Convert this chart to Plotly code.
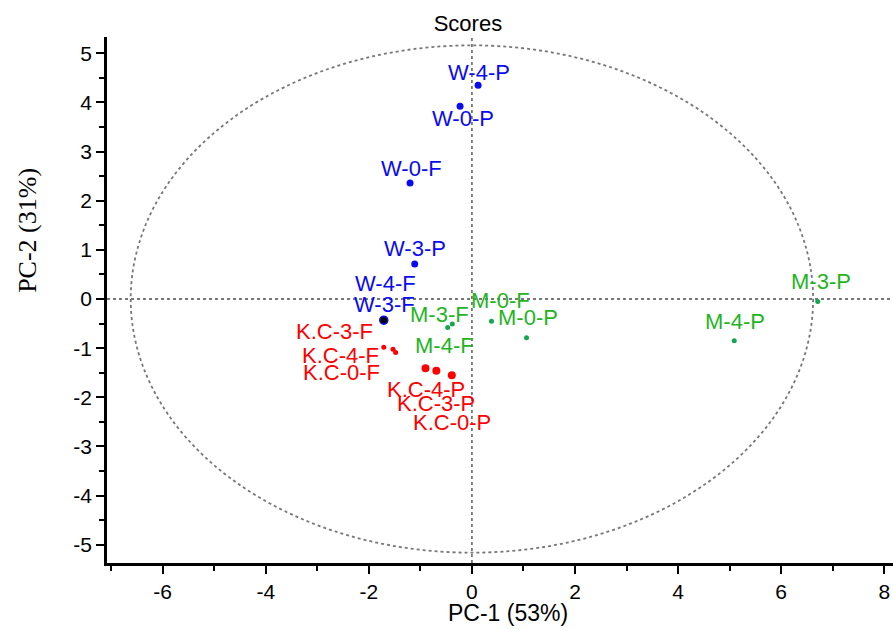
import plotly.graph_objects as go

# PCA scores (PC-1, PC-2) per sample
samples = ["W-4-P", "W-0-P", "W-0-F", "W-3-P", "W-4-F", "W-3-F",
           "K.C-3-F", "K.C-4-F", "K.C-0-F", "K.C-4-P", "K.C-3-P", "K.C-0-P",
           "M-3-F", "M-4-F", "M-0-F", "M-0-P", "M-4-P", "M-3-P"]
pc1 = [0.12, -0.23, -1.20, -1.11, -1.70, -1.71,
       -1.71, -1.53, -1.48, -0.90, -0.69, -0.39,
       -0.38, -0.47, 0.38, 1.06, 5.09, 6.71]
pc2 = [4.35, 3.92, 2.36, 0.71, -0.43, -0.43,
       -0.98, -1.02, -1.09, -1.41, -1.46, -1.55,
       -0.51, -0.58, -0.45, -0.79, -0.85, -0.05]
group = ["W", "W", "W", "W", "W", "W3F",
         "KF", "KF", "KF", "KP", "KP", "KP",
         "M", "M", "M", "M", "M", "M"]

# Hotelling ellipse half-axes
ellipse_rx = 6.62
ellipse_ry = 5.16

x_ticks = [-6, -4, -2, 0, 2, 4, 6, 8]
y_ticks = [-5, -4, -3, -2, -1, 0, 1, 2, 3, 4, 5]
x_ticklabels = [str(v) for v in x_ticks]
y_ticklabels = [str(v) for v in y_ticks]

BLUE = "#0a0af0"
RED = "#ff0000"
GREEN_TXT = "#1fb51f"
GREEN_DOT = "#14a650"
SANS = "Liberation Sans, Arial"

marker_style = {
    "W": dict(color=BLUE, size=7),
    "W3F": dict(color="#000000", size=8, line=dict(color=BLUE, width=1.5)),
    "KF": dict(color=RED, size=5),
    "KP": dict(color=RED, size=8),
    "M": dict(color=GREEN_DOT, size=5),
}
text_color = {"W": BLUE, "W3F": BLUE, "KF": RED, "KP": RED, "M": GREEN_TXT}

# label offsets in pixels (dx right, dy up)
label_shift = {
    "W-4-P": (1, 13), "W-0-P": (3, -12), "W-0-F": (1, 15), "W-3-P": (0, 16),
    "W-4-F": (1, 37), "W-3-F": (1, 16),
    "K.C-3-F": (-49, 16), "K.C-4-F": (-53, -6), "K.C-0-F": (-54, -20),
    "K.C-4-P": (0, -21), "K.C-3-P": (0, -33), "K.C-0-P": (0, -47),
    "M-3-F": (-13, 10), "M-4-F": (-3, -18), "M-0-F": (9, 21),
    "M-0-P": (1, 20), "M-4-P": (1, 19), "M-3-P": (3, 20),
}

fig = go.Figure()

# the black W-3-F point is drawn last, on top of W-4-F
for g in ["W", "KF", "KP", "M", "W3F"]:
    idx = [i for i, gg in enumerate(group) if gg == g]
    fig.add_trace(go.Scatter(
        x=[pc1[i] for i in idx], y=[pc2[i] for i in idx],
        mode="markers", marker=marker_style[g],
        text=[samples[i] for i in idx], showlegend=False,
        hoverinfo="text+x+y",
    ))

for i, name in enumerate(samples):
    dx, dy = label_shift[name]
    fig.add_annotation(
        x=pc1[i], y=pc2[i], text=name, showarrow=False,
        xshift=dx, yshift=dy,
        font=dict(family=SANS, size=22, color=text_color[group[i]]),
    )

dot_line = dict(color="#777777", width=1.8, dash="dot")
fig.add_shape(type="circle", xref="x", yref="y",
              x0=-ellipse_rx, x1=ellipse_rx, y0=-ellipse_ry, y1=ellipse_ry,
              line=dot_line, layer="below")
fig.add_shape(type="line", xref="x", yref="paper", x0=0, x1=0, y0=0, y1=1,
              line=dot_line, layer="below")
fig.add_shape(type="line", xref="paper", yref="y", x0=0, x1=1, y0=0, y1=0,
              line=dot_line, layer="below")

axis_common = dict(
    showgrid=False, zeroline=False, showline=True, linecolor="black", linewidth=2.5,
    ticks="outside", ticklen=8, tickwidth=2.2, tickcolor="black",
    tickfont=dict(family=SANS, size=21, color="black"),
)

fig.update_xaxes(
    range=[-7.08, 8.17], tickvals=x_ticks, ticktext=x_ticklabels,
    minor=dict(dtick=1, tick0=0, ticks="outside", ticklen=5, tickwidth=2.2, tickcolor="black"),
    **axis_common,
)
fig.update_yaxes(
    range=[-5.37, 5.33], tickvals=y_ticks, ticktext=y_ticklabels,
    minor=dict(dtick=0.5, tick0=0, ticks="outside", ticklen=5, tickwidth=2.2, tickcolor="black"),
    **axis_common,
)

# axis titles
fig.add_annotation(text="PC-1 (53%)", xref="paper", yref="paper",
                   x=0.510, y=-0.095, yanchor="middle", showarrow=False,
                   font=dict(family=SANS, size=23, color="black"))
fig.add_annotation(text="PC-2 (31%)", xref="paper", yref="paper",
                   x=-0.102, y=0.633, textangle=-90, showarrow=False,
                   xanchor="center", yanchor="middle",
                   font=dict(family="Liberation Serif, Times New Roman", size=26, color="black"))

fig.update_layout(
    width=893, height=630,
    margin=dict(l=107, r=0, t=37, b=67),
    paper_bgcolor="white", plot_bgcolor="white",
    title=dict(text="Scores", x=0.524, xanchor="center", y=0.963, yanchor="middle",
               yref="container",
               font=dict(family=SANS, size=22, color="black")),
)

fig.write_html("out.html")
